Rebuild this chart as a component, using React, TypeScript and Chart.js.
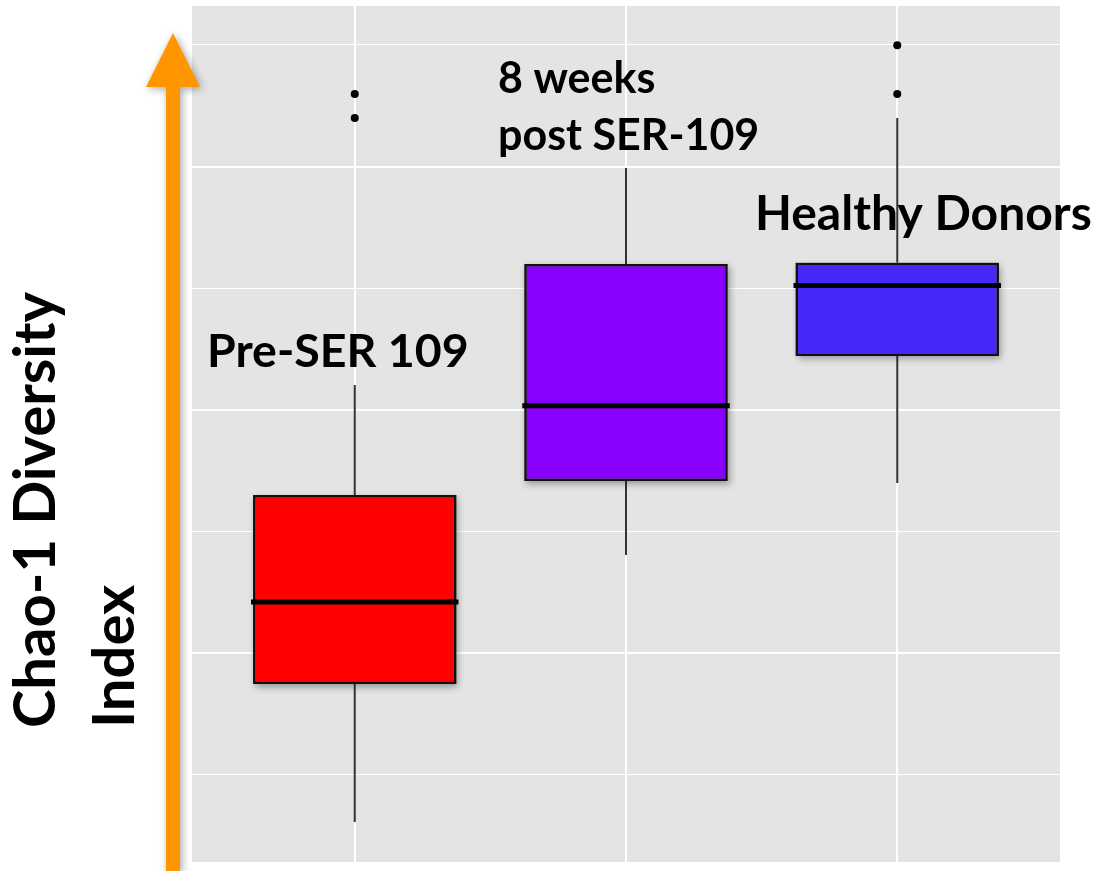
import React, { useEffect, useRef } from "react";
import { Chart, registerables } from "chart.js";

Chart.register(...registerables);

// ---- data ----
const CATEGORIES = ["Pre-SER 109", "8 weeks post SER-109", "Healthy Donors"];
const CAT_X = [1, 2, 3];
const WHISKER_LOW = [30.4, 140.2, 169.8];
const Q1 = [87.2, 170.7, 222.1];
const MEDIAN = [120.9, 201.6, 251.1];
const Q3 = [164.9, 259.9, 260.4];
const WHISKER_HIGH = [210.1, 299.4, 319.9];
const OUTLIER_X = [1, 1, 3, 3];
const OUTLIER_Y = [329.8, 319.9, 349.9, 329.8];
const BOX_COLORS = ["#ff0000", "#8800ff", "#4629f9"];
const Y_GRID_TICKS = [50, 100, 150, 200, 250, 300, 350];
const Y_MAJOR = [100, 200, 300];
const Y_MIN = 14;
const Y_MAX = 366;
const X_MIN = 0.4;
const X_MAX = 3.6;
const GROUP_LABELS = [["Pre-SER 109"], ["8 weeks", "post SER-109"], ["Healthy Donors"]];
const Y_TITLE_LINES = ["Chao-1 Diversity", "Index"];

const FONT = "Lato, 'Open Sans', sans-serif";

const panelPlugin = {
  id: "panelBg",
  beforeDraw(chart: any) {
    const { ctx, chartArea } = chart;
    ctx.save();
    ctx.fillStyle = "#e4e4e4";
    ctx.fillRect(chartArea.left, chartArea.top, chartArea.right - chartArea.left, chartArea.bottom - chartArea.top);
    ctx.restore();
  },
};

const boxPlugin = {
  id: "boxParts",
  beforeDatasetsDraw(chart: any) {
    const { ctx } = chart;
    const xs = chart.scales.x;
    const ys = chart.scales.y;
    ctx.save();
    // whiskers
    ctx.strokeStyle = "#333333";
    ctx.lineWidth = 2;
    CAT_X.forEach((cx, i) => {
      const px = xs.getPixelForValue(cx);
      ctx.beginPath();
      ctx.moveTo(px, ys.getPixelForValue(Q3[i]));
      ctx.lineTo(px, ys.getPixelForValue(WHISKER_HIGH[i]));
      ctx.moveTo(px, ys.getPixelForValue(Q1[i]));
      ctx.lineTo(px, ys.getPixelForValue(WHISKER_LOW[i]));
      ctx.stroke();
    });
    // soft shadows under boxes
    const meta = chart.getDatasetMeta(0);
    meta.data.forEach((el: any) => {
      const { x, y, base, width } = el.getProps(["x", "y", "base", "width"], true);
      ctx.save();
      ctx.shadowColor = "rgba(0,0,0,0.35)";
      ctx.shadowBlur = 7;
      ctx.shadowOffsetX = 2;
      ctx.shadowOffsetY = 3;
      ctx.fillStyle = "#777";
      ctx.fillRect(x - width / 2, Math.min(y, base), width, Math.abs(base - y));
      ctx.restore();
    });
    ctx.restore();
  },
  afterDatasetsDraw(chart: any) {
    const { ctx } = chart;
    const ys = chart.scales.y;
    const meta = chart.getDatasetMeta(0);
    ctx.save();
    ctx.strokeStyle = "#000";
    ctx.lineWidth = 5;
    meta.data.forEach((el: any, i: number) => {
      const { x, width } = el.getProps(["x", "width"], true);
      const py = ys.getPixelForValue(MEDIAN[i]);
      ctx.beginPath();
      ctx.moveTo(x - width / 2 - 2, py);
      ctx.lineTo(x + width / 2 + 2, py);
      ctx.stroke();
    });
    ctx.restore();
  },
};

const annotPlugin = {
  id: "annotations",
  afterDraw(chart: any) {
    const { ctx } = chart;
    ctx.save();
    // orange arrow
    ctx.shadowColor = "rgba(0,0,0,0.35)";
    ctx.shadowBlur = 8;
    ctx.shadowOffsetX = 2;
    ctx.shadowOffsetY = 2;
    ctx.fillStyle = "#ff9600";
    ctx.beginPath();
    ctx.moveTo(166, 871);
    ctx.lineTo(166, 87);
    ctx.lineTo(146, 87);
    ctx.lineTo(173, 33);
    ctx.lineTo(200, 87);
    ctx.lineTo(180, 87);
    ctx.lineTo(180, 871);
    ctx.closePath();
    ctx.fill();
    ctx.restore();

    ctx.save();
    ctx.fillStyle = "#000";
    ctx.textAlign = "left";
    ctx.textBaseline = "alphabetic";
    // group labels
    ctx.font = `bold 46.5px ${FONT}`;
    ctx.fillText(GROUP_LABELS[0][0], 207, 367);
    ctx.font = `bold 43px ${FONT}`;
    ctx.fillText(GROUP_LABELS[1][0], 498, 93);
    ctx.fillText(GROUP_LABELS[1][1], 498, 150);
    ctx.font = `bold 48px ${FONT}`;
    ctx.fillText(GROUP_LABELS[2][0], 755, 230);
    // y title (rotated)
    ctx.font = `bold 58px ${FONT}`;
    ctx.save();
    ctx.translate(55, 728);
    ctx.rotate(-Math.PI / 2);
    ctx.fillText(Y_TITLE_LINES[0], 0, 0);
    ctx.restore();
    ctx.save();
    ctx.translate(134, 728);
    ctx.rotate(-Math.PI / 2);
    ctx.fillText(Y_TITLE_LINES[1], 0, 0);
    ctx.restore();
    ctx.restore();
  },
};

export default function App() {
  const ref = useRef<HTMLCanvasElement | null>(null);
  useEffect(() => {
    if (!ref.current) return;
    const chart = new Chart(ref.current, {
      type: "bar",
      data: {
        datasets: [
          {
            type: "bar",
            label: "box",
            data: CAT_X.map((x, i) => ({ x, y: [Q1[i], Q3[i]] })) as any,
            backgroundColor: BOX_COLORS,
            borderColor: "#111111",
            borderWidth: 2.5,
            borderSkipped: false,
            barPercentage: 0.75,
            categoryPercentage: 1,
            order: 2,
          } as any,
          {
            type: "scatter",
            label: "outliers",
            data: OUTLIER_X.map((x, i) => ({ x, y: OUTLIER_Y[i] })),
            backgroundColor: "#000",
            borderWidth: 0,
            pointRadius: 4,
            order: 1,
          } as any,
        ],
      },
      options: {
        responsive: false,
        animation: false,
        devicePixelRatio: 1,
        layout: { padding: { left: 192, right: 40, top: 6, bottom: 9 } },
        plugins: { legend: { display: false }, tooltip: { enabled: false }, title: { display: false } },
        scales: {
          x: {
            type: "linear",
            min: X_MIN,
            max: X_MAX,
            offset: false,
            afterBuildTicks: (s: any) => {
              s.ticks = CAT_X.map((v) => ({ value: v }));
            },
            grid: { color: "#ffffff", lineWidth: 2, drawTicks: false, offset: false },
            border: { display: false },
            ticks: { display: false },
          },
          y: {
            type: "linear",
            min: Y_MIN,
            max: Y_MAX,
            beginAtZero: false,
            afterBuildTicks: (s: any) => {
              s.ticks = Y_GRID_TICKS.map((v) => ({ value: v }));
            },
            grid: {
              color: "#ffffff",
              lineWidth: (c: any) => (c.tick && Y_MAJOR.includes(c.tick.value) ? 2 : 1),
              drawTicks: false,
            },
            border: { display: false },
            ticks: { display: false },
          },
        },
      } as any,
      plugins: [panelPlugin, boxPlugin, annotPlugin],
    });
    return () => chart.destroy();
  }, []);
  return (
    <div style={{ position: "fixed", left: 0, top: 0, width: 1100, height: 871, background: "#fff" }}>
      <canvas ref={ref} width={1100} height={871} aria-label={CATEGORIES.join(", ")} />
    </div>
  );
}
